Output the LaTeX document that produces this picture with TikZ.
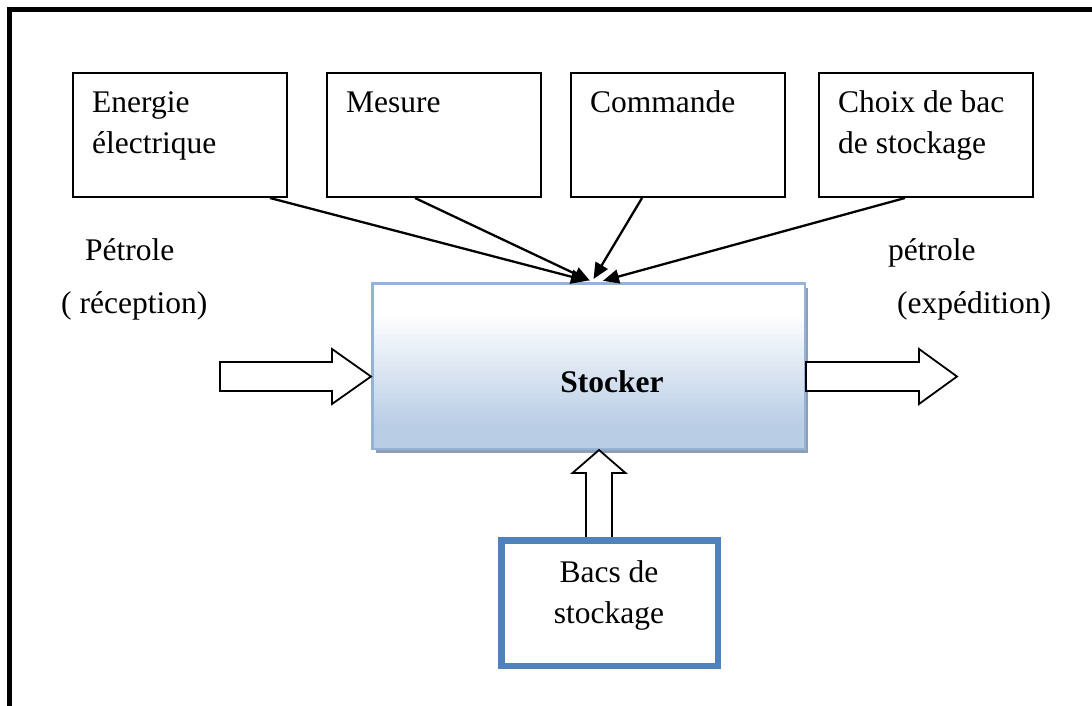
\documentclass[tikz,border=0pt]{standalone}
\usepackage{fontspec}
\setmainfont{Liberation Serif}
\usetikzlibrary{arrows.meta,shadows,calc}

\definecolor{stkB}{RGB}{185,205,229}
\definecolor{stkEdge}{RGB}{149,179,215}
\definecolor{stkShadow}{RGB}{143,158,178}
\definecolor{bacEdge}{RGB}{79,129,189}

% white in the upper part, fading to light blue towards the bottom
\pgfdeclareverticalshading{stockshade}{100bp}{color(0bp)=(stkB); color(32bp)=(stkB); color(66bp)=(white); color(100bp)=(white)}

\begin{document}
\begin{tikzpicture}[x=1pt,y=-1pt,
  lbl/.style={font=\fontsize{31.5}{41}\selectfont, inner sep=0pt, align=left},
  inbox/.style={draw, line width=2pt, minimum width=214pt, minimum height=124pt, anchor=north west, inner sep=0pt},
  feed/.style={line width=2.3pt, -{Triangle[length=16pt,width=14pt]}},
  block/.style={draw, line width=1.8pt, fill=white, line join=miter}
]
\useasboundingbox (0,0) rectangle (1092,706);

% outer frame
\draw[line width=5pt, line join=miter] (9.5,706) -- (9.5,9.5) -- (1092,9.5);

% input boxes
\node[inbox] (b1) at (72,72) {};
\node[inbox] (b2) at (326,72) {};
\node[inbox] (b3) at (570,72) {};
\node[inbox] (b4) at (818,72) {};
\node[lbl, anchor=north west] (t1) at (92,83.3) {\strut Energie\\électrique};
\node[lbl, anchor=north west] (t2) at (346,83.3) {\strut Mesure};
\node[lbl, anchor=north west] (t3) at (590,83.3) {\strut Commande};
\node[lbl, anchor=north west] (t4) at (838,83.3) {\strut Choix de bac\\de stockage};

% main function box
\node[draw=stkEdge, line width=2.5pt, shade, shading=stockshade,
      drop shadow={shadow xshift=3.5pt, shadow yshift=-4.5pt, fill=stkShadow, opacity=1},
      minimum width=432.5pt, minimum height=165.5pt, inner sep=0pt] (stk) at (588.5,366) {};
\node[font=\fontsize{31.5}{41}\selectfont\bfseries, inner sep=0pt, anchor=base] (stkT) at (612,392) {Stocker};

% control arrows
\draw[feed] ($(b1.south west)+(198,0)$) -- ($(stk.north)+(-1.5,-1.2)$);
\draw[feed] ($(b2.south west)+(89,0)$) -- ($(stk.north)+(1.5,-1.2)$);
\draw[feed] ($(b3.south west)+(72,0)$) -- ($(stk.north)+(5,-3)$);
\draw[feed] ($(b4.south west)+(87,0)$) -- ($(stk.north)+(14.5,-1.2)$);

% crude oil in / out
\node[lbl, anchor=base west] (in1) at (85,260) {Pétrole};
\node[lbl, anchor=base west] (in2) at (61,313) {( réception)};
\node[lbl, anchor=base west] (out1) at (888,260) {pétrole};
\node[lbl, anchor=base west] (out2) at (897,313) {(expédition)};

\coordinate (inTip) at ($(stk.west)+(0,10.5)$);
\coordinate (outBase) at ($(stk.east)+(0,10.5)$);
\coordinate (upTip) at ($(stk.south)+(10.5,0)$);

\draw[block, shift={(inTip)}] (-151,-14.5) -- (-39,-14.5) -- (-39,-27.5) -- (0,0)
  -- (-39,27.5) -- (-39,14.5) -- (-151,14.5) -- cycle;
\draw[block, shift={(outBase)}] (0,-14.5) -- (113,-14.5) -- (113,-27.5) -- (151,0)
  -- (113,27.5) -- (113,14.5) -- (0,14.5) -- cycle;
\draw[block, shift={(upTip)}] (0,0) -- (26.5,23) -- (13,23) -- (13,91)
  -- (-13,91) -- (-13,23) -- (-26.5,23) -- cycle;

% storage tanks
\node[draw=bacEdge, line width=6.5pt, minimum width=216.5pt, minimum height=125.5pt, inner sep=0pt] (bacs) at (609.5,603) {};
\node[lbl, align=center, anchor=north] (bacsT) at (609,553.3) {\strut Bacs de\\stockage};
\end{tikzpicture}
\end{document}
